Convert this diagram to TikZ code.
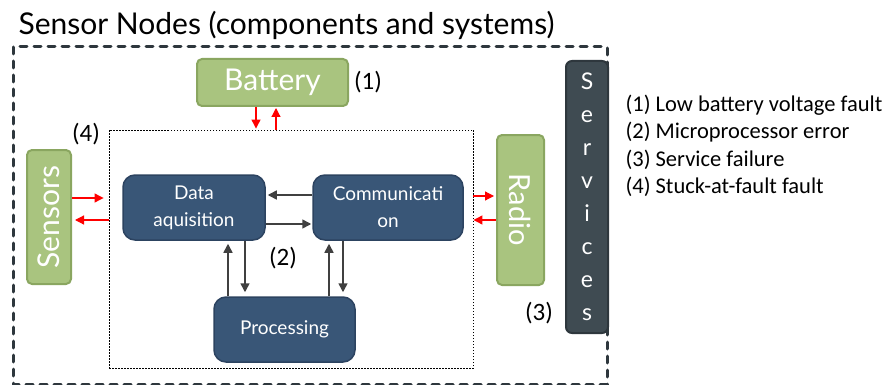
\documentclass[tikz,border=0pt]{standalone}
\usepackage{fontspec}
\setmainfont{Lato}
\newfontfamily\calfont{Carlito}
\usetikzlibrary{arrows.meta}

\definecolor{leafgreen}{HTML}{A9C47F}
\definecolor{leafedge}{HTML}{8AA660}
\definecolor{navyfill}{HTML}{395677}
\definecolor{navyedge}{HTML}{2C4360}
\definecolor{slatefill}{HTML}{3F4B52}
\definecolor{slateedge}{HTML}{2E373D}
\definecolor{arrowgray}{HTML}{404040}

\begin{document}
\begin{tikzpicture}[x=1pt,y=-1pt,
        greenbox/.style={draw=leafedge, line width=2pt, fill=leafgreen, rounded corners=5pt,
            text=white, inner sep=0pt},
        bluebox/.style={draw=navyedge, line width=1.5pt, fill=navyfill, rounded corners=12pt,
            text=white, align=center, inner sep=0pt, minimum height=65pt,
            font=\fontsize{19}{27}\selectfont},
        redarr/.style={-{Triangle[length=9pt,width=9pt]}, red, line width=1.2pt},
        grayarr/.style={-{Triangle[length=9pt,width=9pt]}, arrowgray, line width=1.5pt},
        fault/.style={font=\calfont\fontsize{25}{25}\selectfont},
        legend/.style={anchor=base west, font=\calfont\fontsize{22.5}{27}\selectfont}]
        \useasboundingbox (0,0) rectangle (885,385);

        \node[anchor=base west, font=\fontsize{30}{30}\selectfont] (title) at (15,35)
            {Sensor Nodes (components and systems)};
        \draw[slateedge, line width=3pt, line cap=round, dash pattern=on 7pt off 7pt]
            (13,47) rectangle (607,384);
        \node[draw, line width=0.9pt, dash pattern=on 1.5pt off 1.5pt, inner sep=0pt,
            minimum width=364pt, minimum height=238pt] (core) at (291,249) {};

        % outer parts
        \node[greenbox, minimum width=151pt, minimum height=47pt, font=\fontsize{30}{30}\selectfont]
            (battery) at (272.5,82.5) {Battery};
        \node[greenbox, minimum width=44pt, minimum height=134pt, font=\fontsize{30}{30}\selectfont]
            (sensors) at (49,217) {\rotatebox{90}{Sensors}};
        \node[greenbox, minimum width=47pt, minimum height=150pt, font=\fontsize{29}{29}\selectfont]
            (radio) at (520.5,210) {\rotatebox{-90}{Radio}};
        \node[draw=slateedge, line width=2pt, fill=slatefill, rounded corners=6pt, text=white,
            inner sep=0pt, minimum width=42pt, minimum height=272pt, align=center,
            font=\fontsize{23}{33}\selectfont] (services) at (587,197)
            {S\\e\\r\\v\\i\\c\\e\\s};

        % inner blocks
        \node[bluebox, minimum width=142pt] (data) at (194,207.5) {Data\\aquisition};
        \node[bluebox, minimum width=150pt] (comm) at (388,207.5) {Communicati\\on};
        \node[bluebox, minimum width=141pt] (proc) at (284.5,329.5) {Processing};

        \draw[redarr, shorten >=1pt] ([xshift=-16.5pt]battery.south) -- ([xshift=-16.5pt]battery.south |- core.north);
        \draw[redarr, shorten >=1pt] ([xshift=3.5pt]battery.south |- core.north) -- ([xshift=3.5pt]battery.south);
        \draw[redarr, shorten >=5pt] ([yshift=19pt]sensors.east) -- ([yshift=19pt]sensors.east -| core.west);
        \draw[redarr, shorten >=3pt] ([yshift=-3pt]sensors.east -| core.west) -- ([yshift=-3pt]sensors.east);
        \draw[redarr, shorten >=2pt] ([yshift=14pt]radio.west -| core.east) -- ([yshift=14pt]radio.west);
        \draw[redarr] ([yshift=-10pt]radio.west) -- ([yshift=-10pt]radio.west -| core.east);

        \draw[grayarr, shorten >=2pt] ([yshift=12.5pt]data.east -| comm.west) -- ([yshift=12.5pt]data.east);
        \draw[grayarr, shorten >=1pt] ([yshift=-16.5pt]data.east) -- ([yshift=-16.5pt]data.east -| comm.west);
        \draw[grayarr, shorten >=3pt] ([xshift=34pt]data.south |- proc.north) -- ([xshift=34pt]data.south);
        \draw[grayarr, shorten >=4pt] ([xshift=51pt]data.south) -- ([xshift=51pt]data.south |- proc.north);
        \draw[grayarr, shorten >=3pt] ([xshift=-59pt]comm.south |- proc.north) -- ([xshift=-59pt]comm.south);
        \draw[grayarr, shorten >=4pt] ([xshift=-45pt]comm.south) -- ([xshift=-45pt]comm.south |- proc.north);

        % fault marks
        \node[fault] (f1) at (368,82) {(1)};
        \node[fault] (f2) at (283,258) {(2)};
        \node[fault] (f3) at (539,313) {(3)};
        \node[fault] (f4) at (86,134) {(4)};

        \node[legend] (leg1) at (622,112) {(1) Low battery voltage fault};
        \node[legend] (leg2) at (622,139) {(2) Microprocessor error};
        \node[legend] (leg3) at (622,166) {(3) Service failure};
        \node[legend] (leg4) at (622,193) {(4) Stuck-at-fault fault};
    \end{tikzpicture}
\end{document}
